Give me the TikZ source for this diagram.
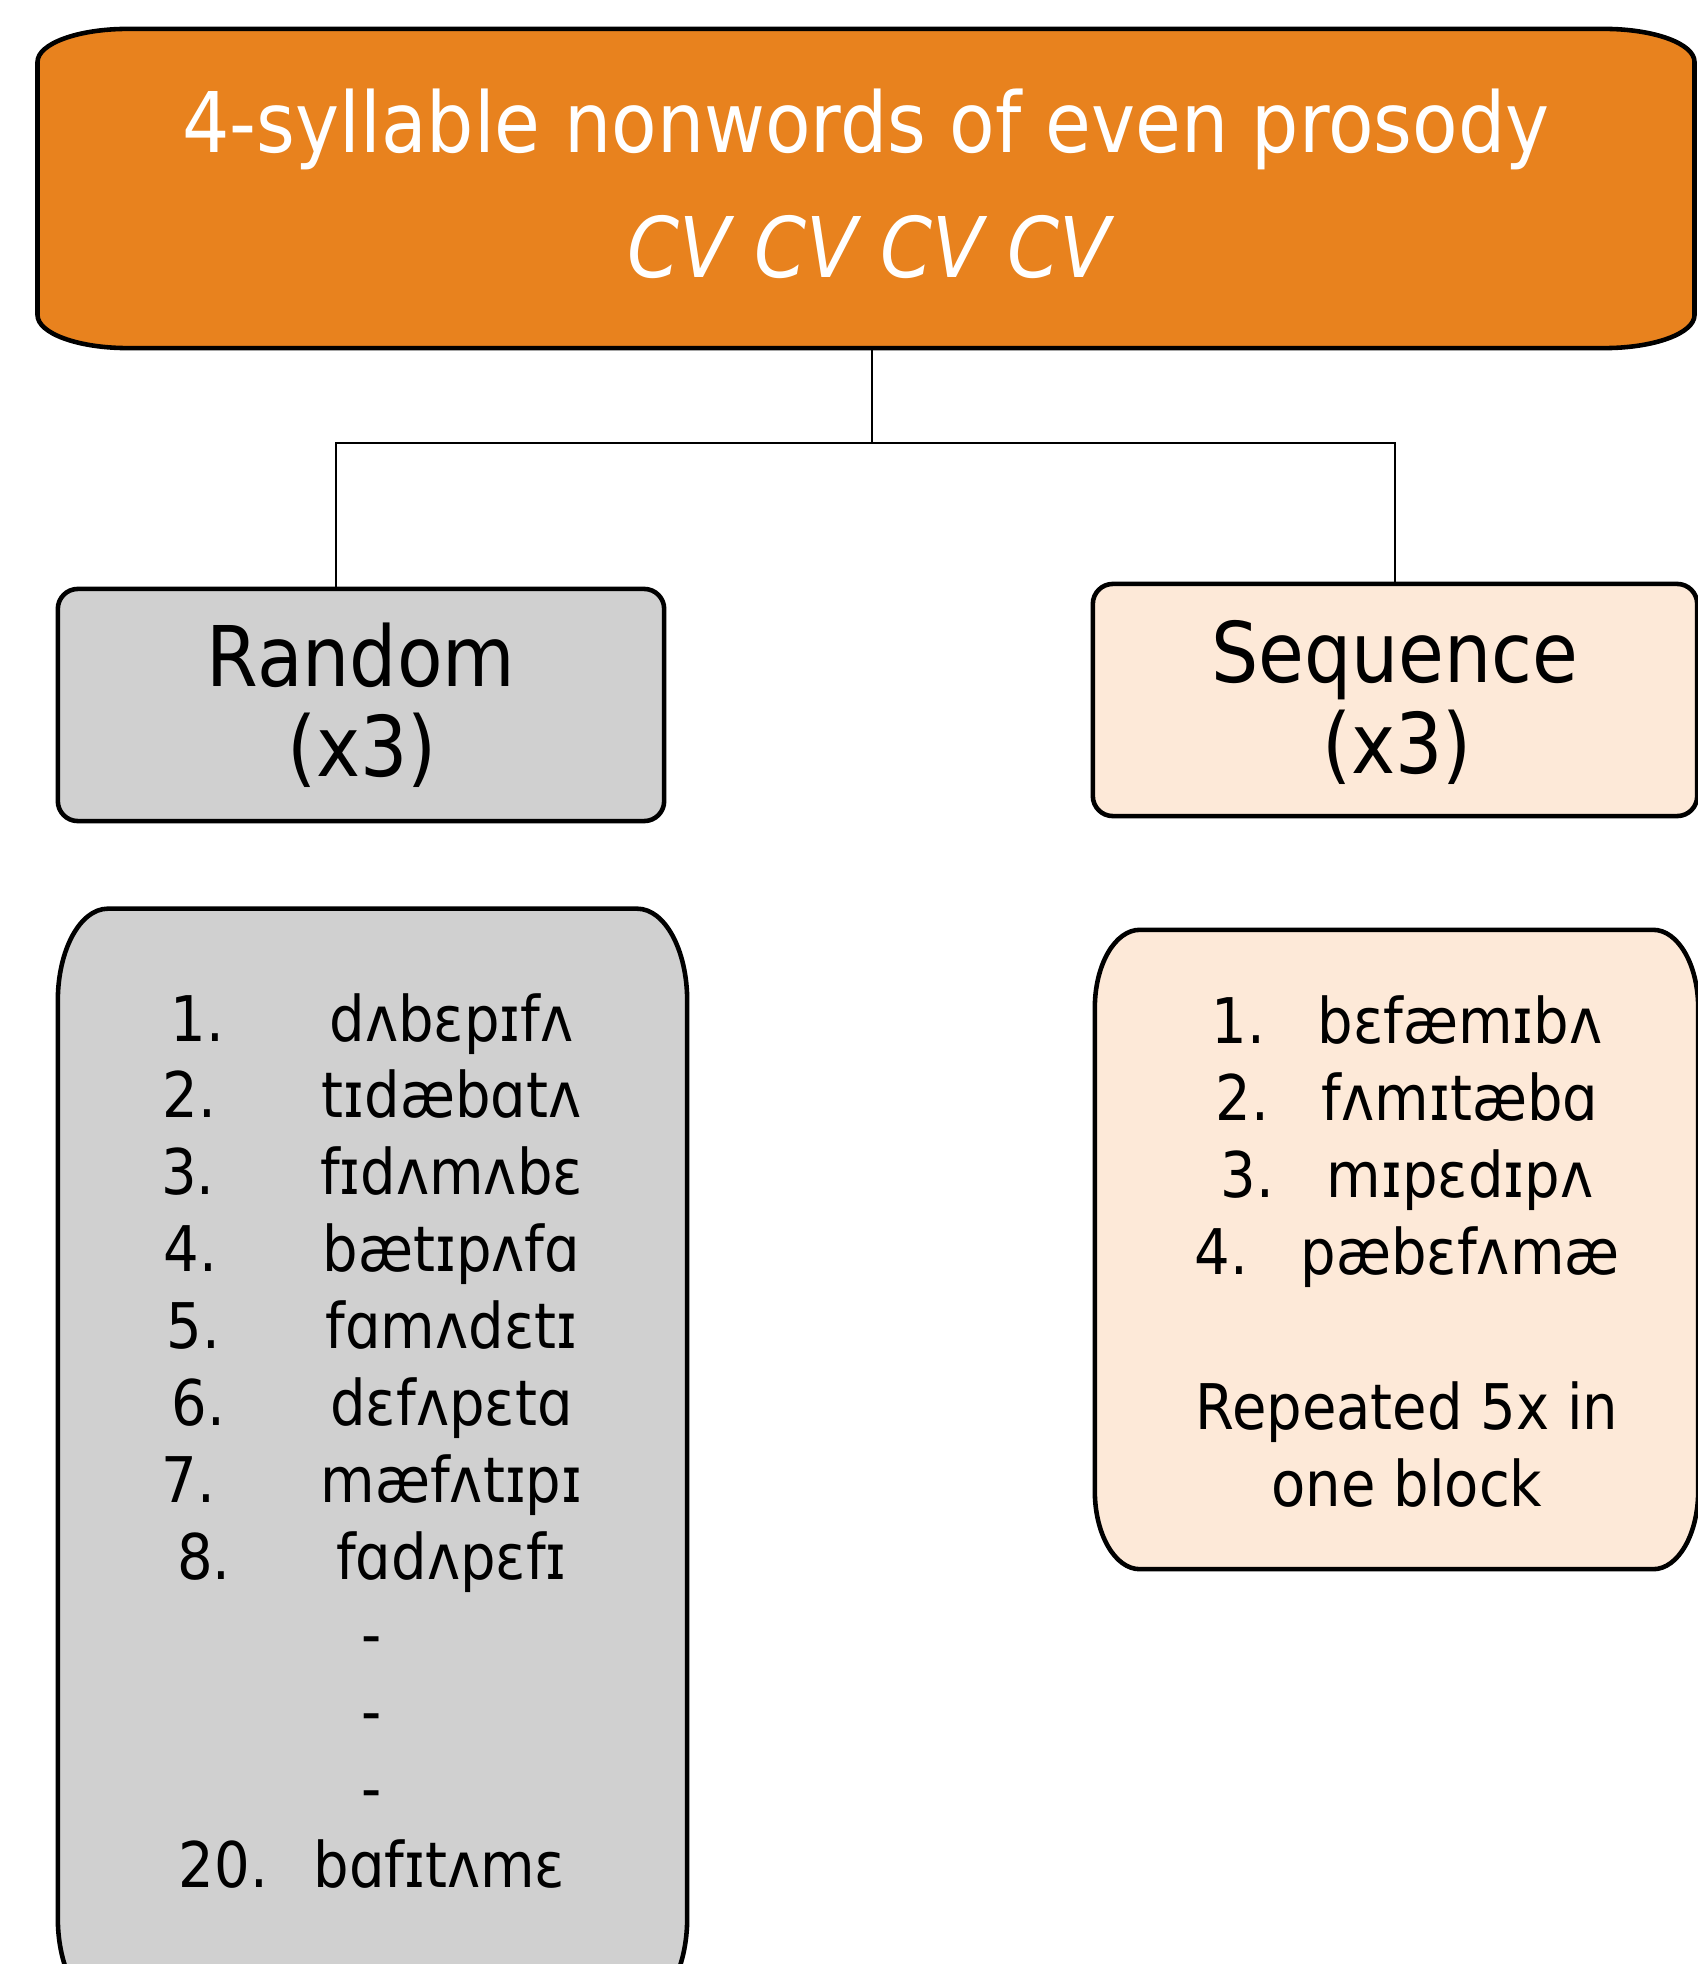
\documentclass[tikz,border=0pt]{standalone}
\usepackage{fontspec}
\setmainfont{DejaVu Sans}[FakeStretch=0.89]
\usetikzlibrary{calc}

\definecolor{prosodyorange}{HTML}{E8821E}
\definecolor{randomgray}{HTML}{D0D0D0}
\definecolor{seqpeach}{HTML}{FDE9D8}

% frame with elliptic corners round an (empty) node
\newcommand{\ovalframe}[4]{%
  \draw[#4] ([xshift=#2]#1.north west) -- ([xshift=-#2]#1.north east)
    arc[start angle=90, end angle=0, x radius=#2, y radius=#3]
    -- ([yshift=#3]#1.south east)
    arc[start angle=0, end angle=-90, x radius=#2, y radius=#3]
    -- ([xshift=#2]#1.south west)
    arc[start angle=270, end angle=180, x radius=#2, y radius=#3]
    -- ([yshift=-#3]#1.north west)
    arc[start angle=180, end angle=90, x radius=#2, y radius=#3]
    -- cycle;}

\begin{document}
\begin{tikzpicture}[x=0.01cm, y=0.01cm,
    frame/.style={line width=1.3pt},
    link/.style={line width=0.5pt},
    area/.style={inner sep=0, outer sep=0},
    head/.style={font=\fontsize{23.8}{28}\selectfont, anchor=base, inner sep=0},
    item/.style={font=\fontsize{17.9}{21}\selectfont, anchor=base, inner sep=0}]
  \useasboundingbox (0,0) rectangle (1698,-1964);

  % boxes
  \node[area, minimum width=16.56cm, minimum height=3.19cm] (top) at (866,-188.5) {};
  \ovalframe{top}{.9cm}{.33cm}{frame, fill=prosodyorange}
  \node[area, draw, frame, fill=randomgray, rounded corners=.2cm,
        minimum width=6.06cm, minimum height=2.32cm] (random) at (361,-705) {};
  \node[area, draw, frame, fill=seqpeach, rounded corners=.2cm,
        minimum width=6.04cm, minimum height=2.32cm] (sequence) at (1395,-700) {};
  \node[area, minimum width=6.29cm, minimum height=11.01cm] (randlist) at (372.5,-1459.5) {};
  \ovalframe{randlist}{.5cm}{.92cm}{frame, fill=randomgray}
  \node[area, minimum width=6.03cm, minimum height=6.39cm] (seqlist) at (1396.5,-1249.5) {};
  \ovalframe{seqlist}{.45cm}{.78cm}{frame, fill=seqpeach}

  % connectors
  \draw[link] ([xshift=.06cm]top.south) -- ++(0,-95) coordinate (split);
  \draw[link] (split) -| ([xshift=-.25cm]random.north);
  \draw[link] (split) -| (sequence.north);

  % headings
  \node[head, text=white] (title) at (866,-153) {4-syllable nonwords of even prosody};
  \node[head, text=white] (pattern) at (869,-278) {\itshape CV CV CV CV};
  \node[head] (randname) at (361,-686) {Random};
  \node[head] (randcount) at (362,-776) {(x3)};
  \node[head] (seqname) at (1395,-682) {Sequence};
  \node[head] (seqcount) at (1397,-773) {(x3)};

  % random list
  \foreach \n/\w [count=\i] in {1/dʌbɛpɪfʌ, 2/tɪdæbɑtʌ, 3/fɪdʌmʌbɛ, 4/bætɪpʌfɑ,
      5/fɑmʌdɛtɪ, 6/dɛfʌpɛtɑ, 7/mæfʌtɪpɪ, 8/fɑdʌpɛfɪ}
    \node[item] (rnd\i) at (372,{-1041-76.9*(\i-1)}) {\n.\hspace{30pt}\w};
  \foreach \i in {9,10,11}
    \node[item] (rnd\i) at (372,{-1041-76.9*(\i-1)}) {-};
  \node[item] (rnd12) at (372,-1887) {20.\hspace{13pt}bɑfɪtʌmɛ};

  % sequence list
  \foreach \n/\w [count=\i] in {1/bɛfæmɪbʌ, 2/fʌmɪtæbɑ, 3/mɪpɛdɪpʌ, 4/pæbɛfʌmæ}
    \node[item] (seq\i) at (1407,{-1043-77.3*(\i-1)}) {\n.\hspace{15pt}\w};
  \node[item] (seqnote) at (1407,-1429) {Repeated 5x in};
  \node[item] (seqblock) at (1407,-1506) {one block};
\end{tikzpicture}
\end{document}
